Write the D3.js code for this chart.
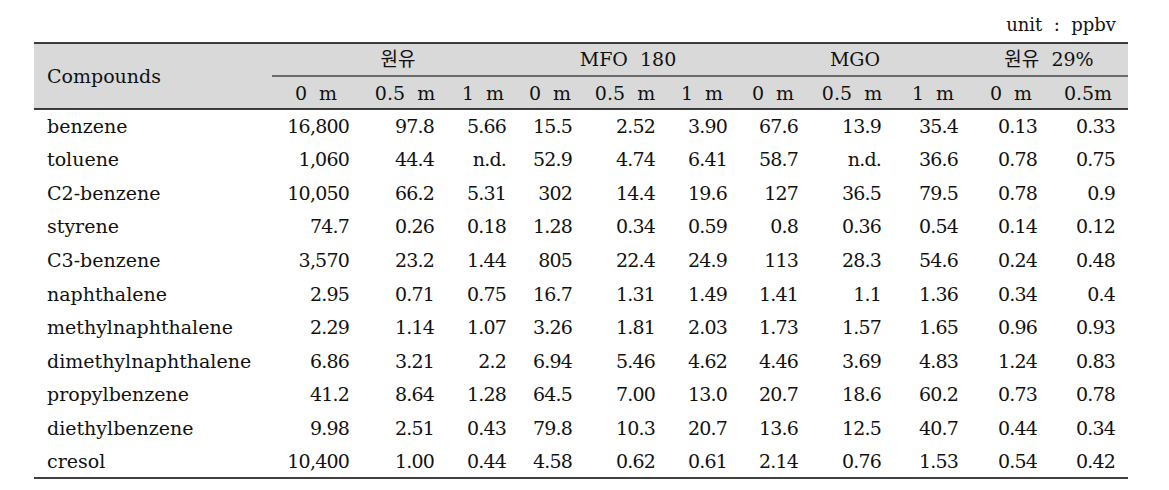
<!DOCTYPE html>
<html>
<head>
<meta charset="utf-8">
<script src="https://cdn.jsdelivr.net/npm/d3@7"></script>
<style>
  body { margin: 0; background: #fff; }
  text { font-family: "DejaVu Serif", "Noto Sans CJK KR", serif; fill: #111; white-space: pre; }
</style>
</head>
<body>
<script>
// data (unit: ppbv)
const compounds = ["benzene", "toluene", "C2-benzene", "styrene", "C3-benzene", "naphthalene",
  "methylnaphthalene", "dimethylnaphthalene", "propylbenzene", "diethylbenzene", "cresol"];
const groups = ["원유", "MFO  180", "MGO", "원유  29%"];
const distances = ["0  m", "0.5  m", "1  m", "0  m", "0.5  m", "1  m", "0  m", "0.5  m", "1  m", "0  m", "0.5m"];
const crude = [
  ["16,800", "97.8", "5.66"], ["1,060", "44.4", "n.d."], ["10,050", "66.2", "5.31"], ["74.7", "0.26", "0.18"],
  ["3,570", "23.2", "1.44"], ["2.95", "0.71", "0.75"], ["2.29", "1.14", "1.07"], ["6.86", "3.21", "2.2"],
  ["41.2", "8.64", "1.28"], ["9.98", "2.51", "0.43"], ["10,400", "1.00", "0.44"]
];
const mfo180 = [
  ["15.5", "2.52", "3.90"], ["52.9", "4.74", "6.41"], ["302", "14.4", "19.6"], ["1.28", "0.34", "0.59"],
  ["805", "22.4", "24.9"], ["16.7", "1.31", "1.49"], ["3.26", "1.81", "2.03"], ["6.94", "5.46", "4.62"],
  ["64.5", "7.00", "13.0"], ["79.8", "10.3", "20.7"], ["4.58", "0.62", "0.61"]
];
const mgo = [
  ["67.6", "13.9", "35.4"], ["58.7", "n.d.", "36.6"], ["127", "36.5", "79.5"], ["0.8", "0.36", "0.54"],
  ["113", "28.3", "54.6"], ["1.41", "1.1", "1.36"], ["1.73", "1.57", "1.65"], ["4.46", "3.69", "4.83"],
  ["20.7", "18.6", "60.2"], ["13.6", "12.5", "40.7"], ["2.14", "0.76", "1.53"]
];
const crude29 = [
  ["0.13", "0.33"], ["0.78", "0.75"], ["0.78", "0.9"], ["0.14", "0.12"], ["0.24", "0.48"], ["0.34", "0.4"],
  ["0.96", "0.93"], ["1.24", "0.83"], ["0.73", "0.78"], ["0.44", "0.34"], ["0.54", "0.42"]
];

// layout
const W = 1169, H = 490;
const tLeft = 34, tRight = 1128, dataLeft = 272;
const tTop = 43, midLine = 76, headBottom = 109, tBottom = 478;
const groupCenter = [398, 628, 855, 1049];
const colCenter = [316, 405, 483, 550, 625, 702, 773, 852, 933, 1011, 1088];
const colRight = [349, 434, 506, 572, 655, 727, 798, 881, 958, 1037, 1115];

const rows = compounds.map((c, i) => ({
  name: c,
  values: [...crude[i], ...mfo180[i], ...mgo[i], ...crude29[i]]
}));

const svg = d3.select("body").append("svg")
  .attr("width", W).attr("height", H);

const y = d3.scaleBand().domain(compounds).range([headBottom, tBottom]);
const xc = d3.scaleOrdinal().domain(d3.range(distances.length)).range(colCenter);
const xr = d3.scaleOrdinal().domain(d3.range(distances.length)).range(colRight);

svg.append("text")
  .attr("x", 1116).attr("y", 31)
  .attr("text-anchor", "end")
  .style("font-size", "18px")
  .text("unit  :  ppbv");

svg.append("rect")
  .attr("x", tLeft).attr("y", tTop)
  .attr("width", tRight - tLeft).attr("height", headBottom - tTop)
  .attr("fill", "#d9d9d9");

svg.append("text")
  .attr("x", 47).attr("y", 83)
  .style("font-size", "19px")
  .text("Compounds");

svg.selectAll(".group").data(groups).join("text")
  .attr("class", "group")
  .attr("x", (d, i) => groupCenter[i]).attr("y", 66)
  .attr("text-anchor", "middle")
  .style("font-size", "19px")
  .text(d => d);

svg.selectAll(".dist").data(distances).join("text")
  .attr("class", "dist")
  .attr("x", (d, i) => xc(i)).attr("y", 100)
  .attr("text-anchor", "middle")
  .style("font-size", "19px")
  .text(d => d);

const row = svg.selectAll(".row").data(rows).join("g")
  .attr("class", "row")
  .attr("transform", d => `translate(0,${y(d.name) + y.bandwidth() / 2 + 7})`);

row.append("text")
  .attr("x", 47)
  .style("font-size", "19px")
  .text(d => d.name);

row.selectAll(".val").data(d => d.values).join("text")
  .attr("class", "val")
  .attr("x", (d, i) => xr(i))
  .attr("text-anchor", "end")
  .style("font-size", "19px")
  .style("letter-spacing", "-0.8px")
  .text(d => d);

// rules
const rules = [
  {x1: tLeft, x2: tRight, y: tTop, w: 1.6},
  {x1: dataLeft, x2: tRight, y: midLine, w: 1.2},
  {x1: tLeft, x2: tRight, y: headBottom, w: 1.6},
  {x1: tLeft, x2: tRight, y: tBottom, w: 1.6}
];
svg.selectAll(".rule").data(rules).join("line")
  .attr("class", "rule")
  .attr("x1", d => d.x1).attr("x2", d => d.x2)
  .attr("y1", d => d.y).attr("y2", d => d.y)
  .attr("stroke", "#000")
  .attr("stroke-width", d => d.w);
</script>
</body>
</html>
